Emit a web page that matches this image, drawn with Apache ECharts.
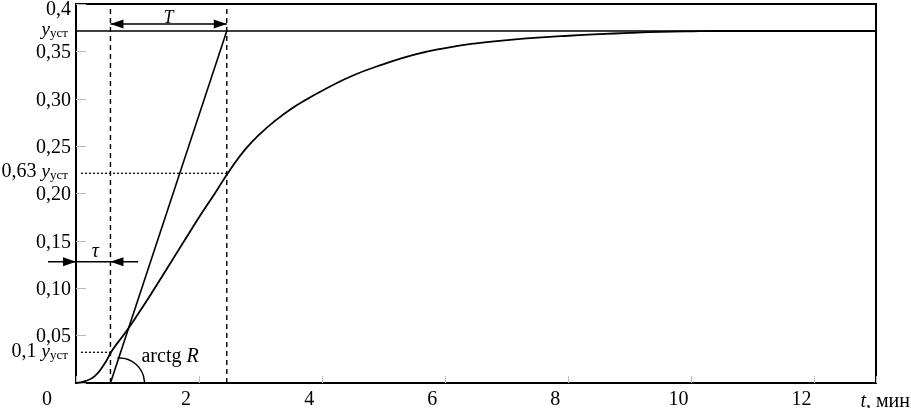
<!DOCTYPE html>
<html>
<head>
<meta charset="utf-8">
<script src="https://cdn.jsdelivr.net/npm/echarts@6/dist/echarts.min.js"></script>
<style>html,body{margin:0;padding:0;background:#fff}#c{width:911px;height:408px}</style>
</head>
<body>
<div id="c"></div>
<script>
// ---- data ----
const curveT = [0, 0.15, 0.3, 0.45, 0.6, 0.8, 1.0, 1.25, 1.5, 1.75, 2.0, 2.25, 2.5, 2.75, 3.0, 3.25, 3.5, 3.75, 4.0, 4.5, 5.0, 5.5, 6.0, 6.5, 7.0, 7.5, 8.0, 8.5, 9.0, 9.5, 10.0, 10.5, 13];
const curveY = [0, 0.002, 0.007, 0.019, 0.0355, 0.053, 0.072, 0.097, 0.123, 0.149, 0.175, 0.1995, 0.2245, 0.2465, 0.2635, 0.2775, 0.2895, 0.2995, 0.3085, 0.3245, 0.3365, 0.3465, 0.3535, 0.3585, 0.3618, 0.3645, 0.3665, 0.3681, 0.3695, 0.3706, 0.3712, 0.3715, 0.3715];
const tau = 0.56;           // dead time (min)
const tEnd = 2.45;          // tau + T (min)
const yUst = 0.3715;        // steady-state value
const y063 = 0.2213;        // 0,63 y_уст level as drawn
const y01 = 0.0324;         // 0,1 y_уст level as drawn
const xTicks = [0, 2, 4, 6, 8, 10, 12];
const yTickLabels = ['0,05', '0,10', '0,15', '0,20', '0,25', '0,30', '0,35', '{top|0,4}'];
const arrowTy = 0.379;      // level of the T arrow
const arrowTauY = 0.128;    // level of the tau arrow
const tauArrowSpan = [-0.455, 1.01];
const dottedStart = 0.08;

const FONT = '"Liberation Serif", "Times New Roman", serif';
const chart = echarts.init(document.getElementById('c'), null, {renderer: 'canvas'});

function pairs(xs, ys) { return xs.map((x, i) => [x, ys[i]]); }

const option = {
  animation: false,
  backgroundColor: '#fff',
  grid: {left: 76, right: 35, top: 4, bottom: 25, containLabel: false, outerBoundsMode: 'none',
    show: true, borderColor: '#000', borderWidth: 2, backgroundColor: 'transparent'},
  xAxis: {
    type: 'value', min: 0, max: 13, interval: 2,
    axisLine: {show: true, lineStyle: {color: '#000', width: 2}},
    axisTick: {show: true, inside: true, length: 7, lineStyle: {color: '#bbb', width: 1}},
    splitLine: {show: false},
    axisLabel: {
      color: '#000', fontFamily: FONT, fontSize: 20, margin: 7, padding: [0, 26, 0, 0],
      formatter: v => (xTicks.indexOf(v) > 0 ? String(v) : '')
    },
    name: '{i|t}, мин', nameLocation: 'end', nameGap: 34,
    nameTextStyle: {color: '#000', fontFamily: FONT, fontSize: 20, align: 'right', verticalAlign: 'top', padding: [9, 0, 0, 0],
      rich: {i: {fontStyle: 'italic', fontFamily: FONT, fontSize: 20, color: '#000'}}}
  },
  yAxis: {
    type: 'value', min: 0, max: 0.4, interval: 0.05,
    axisLine: {show: true, lineStyle: {color: '#000', width: 2}},
    axisTick: {show: true, inside: true, length: 10, lineStyle: {color: '#bbb', width: 1}},
    splitLine: {show: false},
    axisLabel: {
      color: '#000', fontFamily: FONT, fontSize: 20, margin: 5, padding: [3, 0, 0, 0],
      formatter: v => { const k = Math.round(v / 0.05); return k >= 1 ? yTickLabels[k - 1] : ''; },
      rich: {top: {fontFamily: FONT, fontSize: 20, color: '#000', padding: [9, 0, 0, 0]}}
    }
  },
  series: [
    {type: 'line', data: pairs(curveT, curveY), smooth: 0.5, symbol: 'none', lineStyle: {color: '#000', width: 1.8}, z: 5},
    {type: 'line', data: [[tau, 0], [tEnd, yUst]], symbol: 'none', lineStyle: {color: '#000', width: 1.6}, z: 5},
    {type: 'line', data: [[0, yUst], [13, yUst]], symbol: 'none', lineStyle: {color: '#000', width: 1.4}, z: 4},
    {type: 'line', data: [[tau, 0], [tau, 0.4]], symbol: 'none', lineStyle: {color: '#000', width: 1.4, type: [5, 4]}, z: 4},
    {type: 'line', data: [[tEnd, 0], [tEnd, 0.4]], symbol: 'none', lineStyle: {color: '#000', width: 1.4, type: [5, 4]}, z: 4},
    {type: 'line', data: [[dottedStart, y063], [tEnd, y063]], symbol: 'none', lineStyle: {color: '#000', width: 1.3, type: [2, 2]}, z: 4},
    {type: 'line', data: [[dottedStart, y01], [tau, y01]], symbol: 'none', lineStyle: {color: '#000', width: 1.3, type: [2, 2]}, z: 4},
    {
      type: 'custom', clip: false, z: 6,
      data: [[0, 0]],
      renderItem: function (params, api) {
        const p = (t, y) => api.coord([t, y]);
        const black = '#000';
        const kids = [];
        const line = (a, b, w) => ({type: 'line', shape: {x1: a[0], y1: a[1], x2: b[0], y2: b[1]}, style: {stroke: black, lineWidth: w || 1.5}});
        const head = (tip, dir) => ({type: 'polygon', shape: {points: [[tip[0], tip[1]], [tip[0] - dir * 13, tip[1] - 4.5], [tip[0] - dir * 13, tip[1] + 4.5]]}, style: {fill: black}});
        const subRich = {
          i: {fontStyle: 'italic', fontFamily: FONT, fontSize: 19, fill: black, lineHeight: 20, verticalAlign: 'bottom'},
          s: {fontFamily: FONT, fontSize: 13, fill: black, lineHeight: 14, verticalAlign: 'bottom', padding: [0, 0, -1, 0]},
          n: {fontFamily: FONT, fontSize: 20, fill: black, lineHeight: 20, verticalAlign: 'bottom'}
        };
        const txt = (x, y, text, align, font, rich) => ({type: 'text', style: {x: x, y: y, text: text, fill: black, align: align, verticalAlign: 'middle', font: font, rich: rich}});

        // T arrow
        const a1 = p(tau, arrowTy), a2 = p(tEnd, arrowTy);
        kids.push(line(a1, a2, 1.5), head(a1, -1), head(a2, 1));
        kids.push(txt((a1[0] + a2[0]) / 2, a1[1] - 6, 'T', 'center', 'italic 18px ' + FONT));

        // tau arrow
        const b1 = p(tauArrowSpan[0], arrowTauY), b2 = p(tauArrowSpan[1], arrowTauY);
        const b0 = p(0, arrowTauY), bt = p(tau, arrowTauY);
        kids.push(line(b1, b2, 1.5), head(b0, 1), head(bt, -1));
        kids.push(txt((b0[0] + bt[0]) / 2 + 2, b0[1] - 10, 'τ', 'center', 'italic 20px ' + FONT));

        // angle arc
        const o = p(tau, 0);
        kids.push({type: 'arc', shape: {cx: o[0] + 9, cy: o[1], r: 25, startAngle: -Math.PI / 2 - 0.08, endAngle: 0, clockwise: true},
          style: {stroke: black, lineWidth: 1.5, fill: null}});
        kids.push(txt(o[0] + 31, o[1] - 26, 'arctg {i|R}', 'left', '20px ' + FONT,
          {i: {fontStyle: 'italic', fontFamily: FONT, fontSize: 20, fill: black}}));

        // left-side level labels
        const ax = p(0, 0)[0] - 8;
        kids.push(txt(ax, p(0, yUst)[1] - 2, '{i|y}{s|уст}', 'right', '20px ' + FONT, subRich));
        kids.push(txt(ax, p(0, y063)[1] - 2, '{n|0,63 }{i|y}{s|уст}', 'right', '20px ' + FONT, subRich));
        kids.push(txt(ax, p(0, y01)[1] - 1, '{n|0,1 }{i|y}{s|уст}', 'right', '20px ' + FONT, subRich));

        // origin label
        const org = p(0, 0);
        kids.push(txt(org[0] - 29, org[1] + 17, '0', 'center', '20px ' + FONT));

        return {type: 'group', children: kids};
      }
    }
  ]
};
chart.setOption(option);
</script>
</body>
</html>
